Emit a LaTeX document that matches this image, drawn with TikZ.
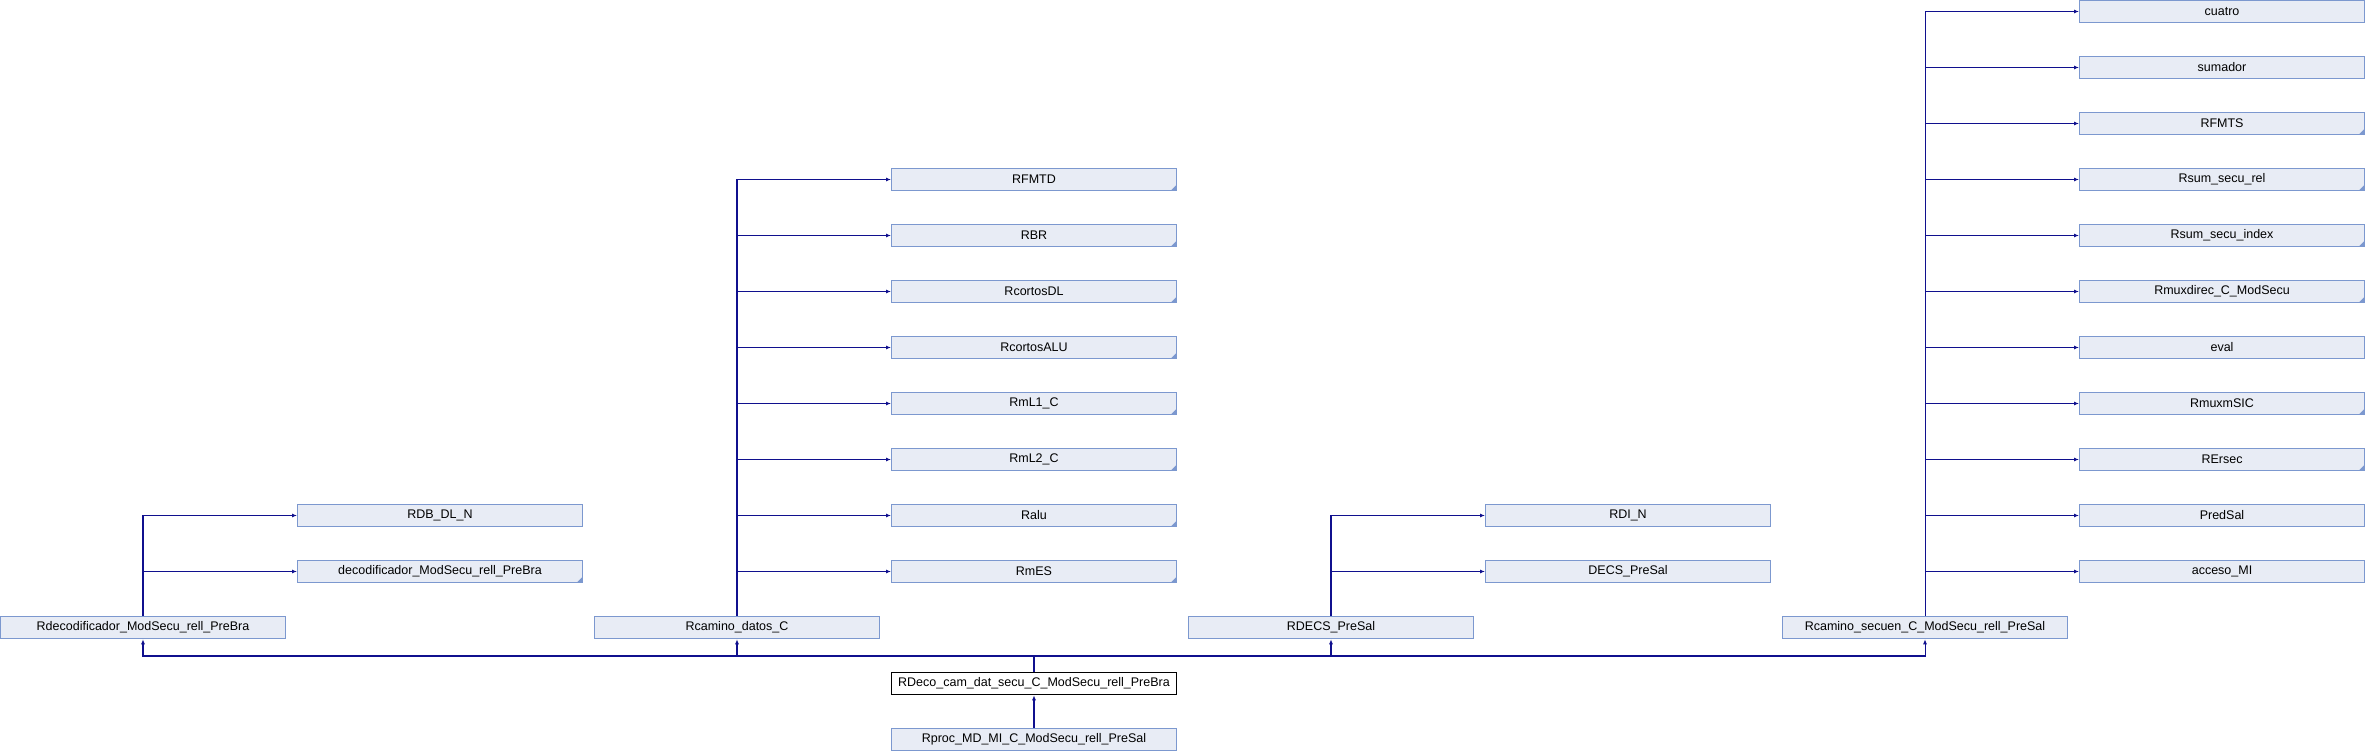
\documentclass[tikz,border=0pt]{standalone}
\usepackage{fontspec}
\setmainfont{Liberation Sans}
\usetikzlibrary{arrows.meta}

\definecolor{boxfill}{HTML}{E8ECF5}
\definecolor{boxline}{HTML}{7C98CF}
\definecolor{edgeblue}{HTML}{10108E}

\begin{document}
\begin{tikzpicture}[x=1pt,y=-1pt,>={Latex[length=5pt,width=4pt]},
	font=\fontsize{12.5}{14}\selectfont,
	box/.style={draw=boxline,fill=boxfill,line width=1pt,minimum width=285pt,minimum height=22.5pt,inner sep=0pt},
	boxmore/.style={box,path picture={\fill[boxline] ([xshift=-6pt]path picture bounding box.south east) -- (path picture bounding box.south east) -- ++(0pt,6pt) -- cycle;}},
	focus/.style={box,draw=black,fill=white},
	edge/.style={->,draw=edgeblue,line width=1.05pt}]

	\useasboundingbox (0,0) rectangle (2366,752);

	% bottom rows
	\node [box] (rdecod) at (143,627.5) {Rdecodificador\_ModSecu\_rell\_PreBra};
	\node [box] (rcamdat) at (737,627.5) {Rcamino\_datos\_C};
	\node [box] (rdecs) at (1331,627.5) {RDECS\_PreSal};
	\node [box] (rcamsec) at (1925,627.5) {Rcamino\_secuen\_C\_ModSecu\_rell\_PreSal};
	\node [focus] (rdcds) at (1034,683.5) {RDeco\_cam\_dat\_secu\_C\_ModSecu\_rell\_PreBra};
	\node [box] (rproc) at (1034,739.5) {Rproc\_MD\_MI\_C\_ModSecu\_rell\_PreSal};

	% children of Rdecodificador
	\foreach \nm/\txt/\row/\sty in {rdbdl/RDB\_DL\_N/9/box, deco/decodificador\_ModSecu\_rell\_PreBra/10/boxmore}
	{
		\node [\sty] (\nm) at (440,11.5+56*\row) {\txt};
		\draw [edge] (rdecod.north) |- (\nm.west);
	}

	% children of Rcamino_datos_C
	\foreach \nm/\txt/\row in {rfmtd/RFMTD/3, rbr/RBR/4, rcdl/RcortosDL/5, rcalu/RcortosALU/6,
		rml1/RmL1\_C/7, rml2/RmL2\_C/8, ralu/Ralu/9, rmes/RmES/10}
	{
		\node [boxmore] (\nm) at (1034,11.5+56*\row) {\txt};
		\draw [edge] (rcamdat.north) |- (\nm.west);
	}

	% children of RDECS_PreSal
	\foreach \nm/\txt/\row in {rdin/RDI\_N/9, decs/DECS\_PreSal/10}
	{
		\node [box] (\nm) at (1628,11.5+56*\row) {\txt};
		\draw [edge] (rdecs.north) |- (\nm.west);
	}

	% children of Rcamino_secuen
	\foreach \nm/\txt/\row/\sty in {cuatro/cuatro/0/box, sumador/sumador/1/box, rfmts/RFMTS/2/boxmore,
		rsumrel/Rsum\_secu\_rel/3/boxmore, rsumidx/Rsum\_secu\_index/4/boxmore,
		rmuxdir/Rmuxdirec\_C\_ModSecu/5/boxmore, eval/eval/6/box, rmuxm/RmuxmSIC/7/boxmore,
		rersec/RErsec/8/boxmore, predsal/PredSal/9/box, acceso/acceso\_MI/10/box}
	{
		\node [\sty] (\nm) at (2222,11.5+56*\row) {\txt};
		\draw [edge] (rcamsec.north) |- (\nm.west);
	}

	% bus below
	\coordinate (bus) at (1034,656);
	\foreach \p in {rdecod, rcamdat, rdecs, rcamsec}
		\draw [edge] (rdcds.north) -- (bus) -| (\p.south);
	\draw [edge] (rproc) -- (rdcds);
\end{tikzpicture}
\end{document}
